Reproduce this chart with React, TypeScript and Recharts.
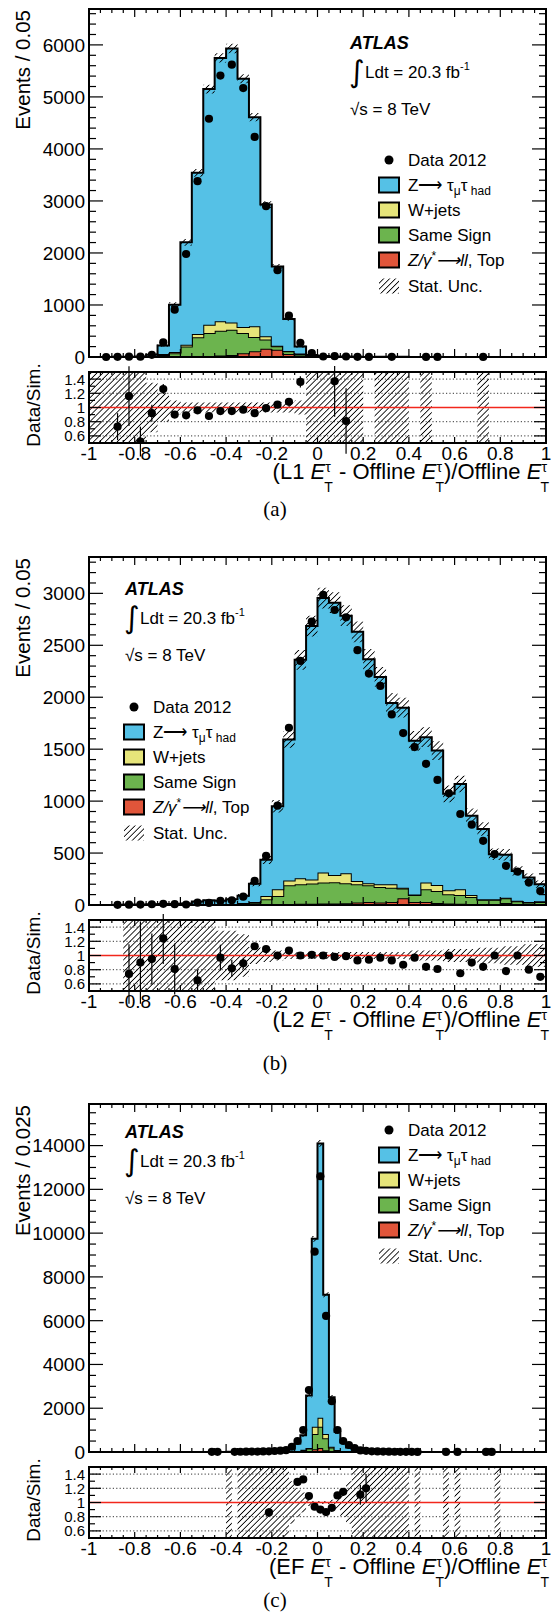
import React from "react";
import { ComposedChart, Area, Scatter, ErrorBar, XAxis, YAxis, ReferenceLine } from "recharts";

const SANS = "'Liberation Sans', Arial, Helvetica, sans-serif";
const SERIF = "'Liberation Serif', 'DejaVu Serif', serif";

const ZTT = "#55c1e6";
const WJETS = "#e6e57a";
const SAMESIGN = "#6cb44e";
const ZLL = "#e0553a";
const RATIO_RED = "#f2271c";

// ---------- axes ----------
const xMajor = [-1, -0.8, -0.6, -0.4, -0.2, 0, 0.2, 0.4, 0.6, 0.8, 1];
const xLabels = ["-1", "-0.8", "-0.6", "-0.4", "-0.2", "0", "0.2", "0.4", "0.6", "0.8", "1"];
const ratioMajor = [0.6, 0.8, 1, 1.2, 1.4];
const ratioLabels = ["0.6", "0.8", "1", "1.2", "1.4"];
const ratioGrid = [0.6, 0.8, 1.2, 1.4];

const yMajorA = [0, 1000, 2000, 3000, 4000, 5000, 6000];
const yLabelsA = ["0", "1000", "2000", "3000", "4000", "5000", "6000"];
const yMajorB = [0, 500, 1000, 1500, 2000, 2500, 3000];
const yLabelsB = ["0", "500", "1000", "1500", "2000", "2500", "3000"];
const yMajorC = [0, 2000, 4000, 6000, 8000, 10000, 12000, 14000];
const yLabelsC = ["0", "2000", "4000", "6000", "8000", "10000", "12000", "14000"];

// ---------- (a) L1, bins of 0.05 ----------
const zllA = [
  0, 0, 0, 0, 0, 0, 5, 8, 10, 15,
  20, 30, 40, 70, 110, 160, 140, 60, 30, 10,
  2, 1, 1, 0, 0, 0, 0, 0, 0, 0,
  0, 0, 0, 0, 0, 0, 0, 0, 0, 0,
];
const sameSignA = [
  0, 0, 0, 0, 0, 5, 35, 62, 190, 365,
  440, 475, 485, 390, 275, 175, 65, 50, 30, 10,
  3, 1, 1, 1, 0, 0, 0, 0, 0, 0,
  0, 0, 0, 0, 0, 0, 0, 0, 0, 0,
];
const wjetsA = [
  0, 0, 0, 0, 0, 5, 20, 25, 35, 60,
  160, 180, 140, 115, 205, 65, 10, 5, 5, 2,
  0, 0, 0, 0, 0, 0, 0, 0, 0, 0,
  0, 0, 0, 0, 0, 0, 0, 0, 0, 0,
];
const zttA = [
  1, 2, 4, 6, 12, 35, 160, 911, 1970, 3100,
  4530, 5065, 5265, 4775, 4020, 2530, 1525, 615, 135, 18,
  15, 10, 10, 5, 0, 4, 3, 3, 0, 2,
  0, 0, 0, 0, 1, 0, 0, 0, 0, 0,
];
const dataA = [
  null, 0, 3, 7, 6, 41, 280, 910, 1980, 3380,
  4580, 5410, 5620, 5170, 4230, 2900, 1670, 795, 272, 75,
  10, 16, 10, 4, 2, null, 3, null, null, 2,
  1, null, null, null, 1, null, null, null, null, null,
];
const statA = [
  1, 1, 3, 4, 5, 12, 25, 45, 65, 75,
  85, 90, 90, 85, 80, 65, 50, 35, 20, 12,
  10, 8, 8, 5, 0, 4, 3, 3, 0, 2,
  0, 0, 0, 0, 1, 0, 0, 0, 0, 0,
];
const ratioBandA = [
  0.6, 0.6, 0.6, 0.6, 0.6, 0.35, 0.2, 0.1, 0.07, 0.07,
  0.07, 0.07, 0.07, 0.07, 0.07, 0.07, 0.07, 0.07, 0.1, 0.6,
  0.6, 0.6, 0.6, 0.6, null, 0.6, 0.6, 0.6, null, 0.6,
  null, null, null, null, 0.6, null, null, null, null, null,
];
const ratioBinsA = [2, 3, 4, 5, 6, 7, 8, 9, 10, 11, 12, 13, 14, 15, 16, 17, 18, 21, 22];
const ratioA = [0.73, 1.16, 0.52, 0.92, 1.26, 0.9, 0.89, 0.96, 0.88, 0.95, 0.95, 0.97, 0.92, 0.99, 1.04, 1.08, 1.36, 1.37, 0.81];
const ratioErrA = [0.19, 0.42, 0.21, 0.12, 0.07, 0.03, 0.025, 0.02, 0.02, 0.02, 0.02, 0.02, 0.02, 0.02, 0.03, 0.04, 0.08, 0.5, 0.46];

// ---------- (b) L2, bins of 0.05 ----------
const zllB = [
  0, 0, 0, 0, 0, 0, 0, 0, 0, 0,
  0, 0, 0, 2, 3, 5, 8, 10, 12, 12,
  14, 15, 18, 25, 30, 25, 30, 64, 30, 30,
  20, 15, 12, 8, 5, 5, 20, 3, 3, 3,
];
const sameSignB = [
  0, 0, 0, 0, 0, 0, 0, 0, 0, 0,
  0, 0, 5, 13, 19, 50, 79, 180, 188, 194,
  202, 203, 191, 175, 160, 149, 137, 96, 67, 121,
  115, 88, 85, 69, 45, 45, 45, 32, 22, 27,
];
const wjetsB = [
  0, 0, 0, 0, 0, 0, 0, 0, 0, 0,
  0, 0, 3, 5, 8, 32, 64, 45, 58, 39,
  96, 72, 97, 30, 20, 26, 33, 5, 3, 65,
  58, 39, 54, 20, 5, 5, 5, 5, 3, 5,
];
const zttB = [
  0, 0, 0, 4, 5, 8, 9, 10, 14, 34,
  45, 40, 47, 70, 175, 348, 799, 1359, 2102, 2440,
  2643, 2620, 2479, 2400, 2155, 1995, 1745, 1735, 1480, 1400,
  1294, 928, 1014, 763, 676, 434, 413, 288, 236, 165,
];
const dataB = [
  null, null, 2, 3, 4, 7, 11, 8, 5, 22,
  20, 39, 45, 80, 232, 473, 956, 1706, 2350, 2727,
  2985, 2840, 2769, 2453, 2228, 2109, 1835, 1655, 1520, 1359,
  1204, 1075, 876, 773, 618, 489, 377, 322, 216, 135,
];
const statB = [
  0, 0, 0, 3, 3, 4, 4, 5, 5, 8,
  9, 9, 12, 15, 25, 40, 60, 80, 95, 100,
  100, 100, 100, 100, 100, 95, 95, 95, 95, 95,
  90, 80, 80, 70, 65, 55, 55, 45, 40, 35,
];
const ratioBandB = [
  null, null, null, 0.6, 0.6, 0.6, 0.6, 0.6, 0.6, 0.6,
  0.6, 0.35, 0.35, 0.3, 0.12, 0.09, 0.07, 0.05, 0.05, 0.05,
  0.05, 0.05, 0.05, 0.05, 0.05, 0.05, 0.05, 0.05, 0.07, 0.07,
  0.07, 0.09, 0.09, 0.09, 0.11, 0.11, 0.13, 0.13, 0.16, 0.16,
];
const ratioBinsB = [3, 4, 5, 6, 7, 9, 11, 12, 13, 14, 15, 16, 17, 18, 19, 20, 21, 22, 23, 24, 25, 26, 27, 28, 29, 30, 31, 32, 33, 34, 35, 36, 37, 38, 39];
const ratioB = [0.74, 0.9, 0.95, 1.24, 0.81, 0.65, 0.97, 0.82, 0.89, 1.13, 1.09, 1.0, 1.07, 1.0, 1.01, 1.0, 0.98, 0.99, 0.93, 0.94, 0.97, 0.93, 0.87, 0.97, 0.84, 0.81, 1.0, 0.75, 0.9, 0.84, 1.0, 0.78, 1.0, 0.8, 0.7];
const ratioErrB = [0.42, 0.58, 0.36, 0.36, 0.36, 0.15, 0.18, 0.12, 0.08, 0.04, 0.03, 0.02, 0.02, 0.02, 0.02, 0.02, 0.02, 0.02, 0.02, 0.02, 0.02, 0.02, 0.02, 0.02, 0.02, 0.02, 0.03, 0.03, 0.03, 0.03, 0.03, 0.04, 0.04, 0.04, 0.04];

// ---------- (c) EF, bins of 0.025 ----------
const zllC = [
  0, 0, 0, 0, 0, 0, 0, 0, 0, 0,
  0, 0, 0, 0, 0, 0, 0, 0, 0, 0,
  0, 0, 0, 0, 0, 0, 0, 0, 0, 0,
  0, 0, 0, 0, 0, 2, 5, 10, 15, 120,
  180, 80, 20, 10, 5, 3, 2, 0, 0, 0,
  0, 0, 0, 0, 0, 0, 0, 0, 0, 0,
  0, 0, 0, 0, 0, 0, 0, 0, 0, 0,
  0, 0, 0, 0, 0, 0, 0, 0, 0, 0,
];
const sameSignC = [
  0, 0, 0, 0, 0, 0, 0, 0, 0, 0,
  0, 0, 0, 0, 0, 0, 0, 0, 0, 0,
  0, 0, 0, 0, 0, 0, 0, 0, 0, 0,
  0, 0, 0, 0, 0, 6, 35, 80, 145, 703,
  978, 545, 180, 70, 35, 17, 8, 0, 0, 0,
  0, 0, 0, 0, 0, 0, 0, 0, 0, 0,
  0, 0, 0, 0, 0, 0, 0, 0, 0, 0,
  0, 0, 0, 0, 0, 0, 0, 0, 0, 0,
];
const wjetsC = [
  0, 0, 0, 0, 0, 0, 0, 0, 0, 0,
  0, 0, 0, 0, 0, 0, 0, 0, 0, 0,
  0, 0, 0, 0, 0, 0, 0, 0, 0, 0,
  0, 0, 0, 0, 0, 2, 5, 10, 20, 335,
  411, 198, 40, 10, 5, 2, 2, 0, 0, 0,
  0, 0, 0, 0, 0, 0, 0, 0, 0, 0,
  0, 0, 0, 0, 0, 0, 0, 0, 0, 0,
  0, 0, 0, 0, 0, 0, 0, 0, 0, 0,
];
const zttC = [
  0, 0, 0, 0, 0, 0, 0, 0, 0, 0,
  0, 0, 0, 0, 0, 0, 0, 0, 0, 0,
  0, 0, 0, 0, 8, 0, 12, 15, 18, 22,
  28, 38, 50, 65, 90, 140, 345, 660, 2400, 8582,
  12531, 6357, 2260, 825, 392, 178, 98, 65, 45, 35,
  28, 22, 18, 15, 12, 10, 0, 6, 0, 0,
  0, 0, 4, 0, 4, 0, 0, 0, 0, 0,
  0, 3, 0, 0, 0, 0, 0, 0, 0, 0,
];
const dataC = [
  null, null, null, null, null, null, null, null, null, null,
  null, null, null, null, null, null, null, null, null, null,
  null, 8, 8, null, null, 10, 12, 14, 18, 20,
  25, 33, 45, 60, 85, 240, 503, 1005, 2830, 9155,
  12600, 6215, 2320, 1005, 503, 320, 180, 72, 54, 30,
  25, 20, 15, 12, 10, 8, 6, 5, null, null,
  null, null, 3, null, 3, null, null, null, null, 2,
  2, null, null, null, null, null, null, null, null, null,
];
const statC = [
  0, 0, 0, 0, 0, 0, 0, 0, 0, 0,
  0, 0, 0, 0, 0, 0, 0, 0, 0, 0,
  0, 0, 0, 0, 6, 0, 8, 9, 10, 12,
  14, 18, 22, 28, 35, 45, 60, 80, 110, 130,
  150, 120, 100, 80, 70, 55, 45, 35, 30, 25,
  22, 18, 15, 12, 10, 8, 0, 6, 0, 0,
  0, 0, 4, 0, 4, 0, 0, 0, 0, 0,
  0, 3, 0, 0, 0, 0, 0, 0, 0, 0,
];
const ratioBandC = [
  null, null, null, null, null, null, null, null, null, null,
  null, null, null, null, null, null, null, null, null, null,
  null, null, null, null, 0.6, null, 0.6, 0.6, 0.6, 0.6,
  0.6, 0.6, 0.6, 0.6, 0.6, 0.3, 0.2, 0.14, 0.05, 0.02,
  0.02, 0.02, 0.04, 0.1, 0.2, 0.3, 0.6, 0.6, 0.6, 0.6,
  0.6, 0.6, 0.6, 0.6, 0.6, 0.6, null, 0.6, null, null,
  null, null, 0.6, null, 0.6, null, null, null, null, null,
  null, 0.6, null, null, null, null, null, null, null, null,
];
const ratioBinsC = [31, 36, 37, 38, 39, 40, 41, 42, 43, 44, 47, 48];
const ratioC = [0.86, 1.29, 1.325, 1.09, 0.94, 0.9, 0.865, 0.925, 1.1, 1.15, 1.11, 1.2];
const ratioErrC = [0.06, 0.03, 0.025, 0.02, 0.01, 0.01, 0.01, 0.015, 0.03, 0.04, 0.14, 0.2];

// ---------- helpers ----------
function steps(a: number, b: number, s: number) {
  const n = Math.round((b - a) / s);
  const out: number[] = [];
  for (let i = 0; i <= n; i++) out.push(Math.round((a + i * s) * 1e6) / 1e6);
  return out;
}
const xTicks = steps(-1, 1, 0.05);
const ratioTicks = steps(0.5, 1.5, 0.1);

function findTick(list: number[], v: number) {
  return list.findIndex((m) => Math.abs(m - v) < 1e-6);
}

function histRows(w: number, zll: number[], ss: number[], wj: number[], ztt: number[], stat: number[]) {
  const rows: any[] = [];
  ztt.forEach((_, i) => {
    const top = zll[i] + ss[i] + wj[i] + ztt[i];
    const band = top > 0 ? [Math.max(0, top - stat[i]), top + stat[i]] : null;
    [-1 + i * w, -1 + (i + 1) * w].forEach((x) =>
      rows.push({ x, zll: zll[i], ss: ss[i], wj: wj[i], ztt: ztt[i], band })
    );
  });
  return rows;
}

function bandRows(w: number, half: (number | null)[]) {
  const rows: any[] = [];
  half.forEach((h, i) => {
    const band = h == null ? null : [1 - h, 1 + h];
    [-1 + i * w, -1 + (i + 1) * w].forEach((x) => rows.push({ x, band }));
  });
  return rows;
}

const tickLine = (x1: number, y1: number, x2: number, y2: number) => (
  <line x1={x1} y1={y1} x2={x2} y2={y2} stroke="#000" strokeWidth={1.2} />
);

const makeXTick = (top: number, bottom: number, maj: number, min: number, labels: boolean) => (p: any) => {
  const k = findTick(xMajor, p.payload.value);
  const len = k >= 0 ? maj : min;
  return (
    <g>
      {tickLine(p.x, bottom, p.x, bottom - len)}
      {tickLine(p.x, top, p.x, top + len)}
      {labels && k >= 0 ? (
        <text x={p.x} y={bottom + 17} textAnchor="middle" fontSize={19} fontFamily={SANS} fill="#000">
          {xLabels[k]}
        </text>
      ) : null}
    </g>
  );
};

const makeYTick = (majors: number[], labels: string[], left: number, right: number, maj: number, min: number, fs: number) => (p: any) => {
  const k = findTick(majors, p.payload.value);
  const len = k >= 0 ? maj : min;
  return (
    <g>
      {tickLine(left, p.y, left + len, p.y)}
      {tickLine(right, p.y, right - len, p.y)}
      {k >= 0 ? (
        <text x={left - 4} y={p.y} dy="0.36em" textAnchor="end" fontSize={fs} fontFamily={SANS} fill="#000">
          {labels[k]}
        </text>
      ) : null}
    </g>
  );
};

const dataDot = (p: any) => <circle cx={p.cx} cy={p.cy} r={4.1} fill="#000" />;

// ---------- overlay pieces ----------
function AxisTitle({ trig }: { trig: string }) {
  return (
    <text x={549} y={479} textAnchor="end" fontSize={22} fontFamily={SANS} fill="#000">
      ({trig} <tspan fontStyle="italic">E</tspan>
      <tspan fontSize={14} dy={-7}>τ</tspan>
      <tspan fontSize={14} dx={-6.5} dy={20}>T</tspan>
      <tspan dy={-13}> - Offline </tspan>
      <tspan fontStyle="italic">E</tspan>
      <tspan fontSize={14} dy={-7}>τ</tspan>
      <tspan fontSize={14} dx={-6.5} dy={20}>T</tspan>
      <tspan dy={-13}>)/Offline </tspan>
      <tspan fontStyle="italic">E</tspan>
      <tspan fontSize={14} dy={-7}>τ</tspan>
      <tspan fontSize={14} dx={-6.5} dy={20}>T</tspan>
    </text>
  );
}

function AtlasLabel({ x, y }: { x: number; y: number }) {
  return (
    <g fill="#000" fontFamily={SANS}>
      <text x={x} y={y} fontSize={18} fontWeight="bold" fontStyle="italic">ATLAS</text>
      <text x={x - 1} y={y + 33} fontSize={30} fontFamily="'DejaVu Sans', sans-serif">∫</text>
      <text x={x + 15} y={y + 29} fontSize={17}>
        Ldt = 20.3 fb<tspan fontSize={11} dy={-8}>-1</tspan>
      </text>
      <text x={x} y={y + 66} fontSize={17}>√s = 8 TeV</text>
    </g>
  );
}

function Legend({ x, y }: { x: number; y: number }) {
  const tx = x + 29;
  const fills = [ZTT, WJETS, SAMESIGN, ZLL];
  return (
    <g fill="#000" fontFamily={SANS} fontSize={17}>
      <circle cx={x + 10} cy={y} r={4.5} />
      <text x={tx} y={y + 6}>Data 2012</text>
      {fills.map((c, k) => (
        <rect key={c} x={x} y={y + 25 * (k + 1) - 7.5} width={20} height={15} fill={c} stroke="#000" strokeWidth={2} />
      ))}
      <text x={tx} y={y + 31}>
        Z⟶ τ<tspan fontSize={12} dy={4}>μ</tspan>
        <tspan dy={-4}>τ</tspan>
        <tspan fontSize={12} dy={4}> had</tspan>
      </text>
      <text x={tx} y={y + 56}>W+jets</text>
      <text x={tx} y={y + 81}>Same Sign</text>
      <text x={tx} y={y + 106}>
        <tspan fontStyle="italic">Z/γ</tspan>
        <tspan fontSize={12} dy={-6}>*</tspan>
        <tspan fontStyle="italic" dy={6}>⟶ll</tspan>, Top
      </text>
      <rect x={x} y={y + 126 - 7.5} width={20} height={15} fill="url(#statHatch)" />
      <text x={tx} y={y + 132}>Stat. Unc.</text>
    </g>
  );
}

// ---------- panel ----------
function Panel({ cfg }: { cfg: any }) {
  const rows = histRows(cfg.w, cfg.zll, cfg.ss, cfg.wj, cfg.ztt, cfg.stat);
  const pts = cfg.data
    .map((v: number | null, i: number) => (v == null ? null : { x: -1 + (i + 0.5) * cfg.w, y: v }))
    .filter(Boolean);
  const rRows = bandRows(cfg.w, cfg.band);
  const rPts = cfg.rBins.map((b: number, k: number) => ({ x: -1 + (b + 0.5) * cfg.w, y: cfg.ratio[k], e: cfg.rErr[k] }));
  const yTicks = steps(0, cfg.yTickMax, cfg.yMinor);

  return (
    <div style={{ position: "absolute", left: 0, top: cfg.top, width: 551, height: cfg.h }}>
      <div style={{ position: "absolute", left: 0, top: 0 }}>
        <ComposedChart width={551} height={372} data={rows} margin={{ top: 9, right: 5, bottom: 14, left: 88 }}>
          <Area dataKey="zll" stackId="mc" type="linear" fill={ZLL} fillOpacity={1} stroke="#000" strokeWidth={2} isAnimationActive={false} dot={false} activeDot={false} />
          <Area dataKey="ss" stackId="mc" type="linear" fill={SAMESIGN} fillOpacity={1} stroke="#000" strokeWidth={2} isAnimationActive={false} dot={false} activeDot={false} />
          <Area dataKey="wj" stackId="mc" type="linear" fill={WJETS} fillOpacity={1} stroke="#000" strokeWidth={2} isAnimationActive={false} dot={false} activeDot={false} />
          <Area dataKey="ztt" stackId="mc" type="linear" fill={ZTT} fillOpacity={1} stroke="#000" strokeWidth={2} isAnimationActive={false} dot={false} activeDot={false} />
          <Area dataKey="band" type="linear" fill="url(#statHatch)" fillOpacity={1} stroke="none" isAnimationActive={false} dot={false} activeDot={false} />
          <Scatter data={pts} dataKey="y" shape={dataDot} isAnimationActive={false} />
          <XAxis dataKey="x" type="number" domain={[-1, 1]} ticks={xTicks} interval={0} height={1} axisLine={false} tickLine={false} tick={makeXTick(9, 357, 8, 4, false)} />
          <YAxis type="number" domain={[0, cfg.yMax]} ticks={yTicks} interval={0} width={1} axisLine={false} tickLine={false} tick={makeYTick(cfg.yMajor, cfg.yLabels, 89, 546, 14, 7, 19)} />
        </ComposedChart>
      </div>
      <div style={{ position: "absolute", left: 0, top: 366 }}>
        <ComposedChart width={551} height={110} data={rRows} margin={{ top: 6, right: 5, bottom: 32, left: 88 }}>
          <Area dataKey="band" type="linear" fill="url(#statHatch)" fillOpacity={1} stroke="none" isAnimationActive={false} dot={false} activeDot={false} />
          {ratioGrid.map((g) => (
            <ReferenceLine key={g} y={g} stroke="#000" strokeWidth={0.8} strokeDasharray="1.2 2.2" />
          ))}
          <ReferenceLine y={1} stroke={RATIO_RED} strokeWidth={1.6} />
          <Scatter data={rPts} dataKey="y" shape={dataDot} isAnimationActive={false}>
            <ErrorBar dataKey="e" direction="y" width={0} stroke="#000" strokeWidth={1.2} />
          </Scatter>
          <XAxis dataKey="x" type="number" domain={[-1, 1]} allowDataOverflow ticks={xTicks} interval={0} height={1} axisLine={false} tickLine={false} tick={makeXTick(6, 77, 6, 3, true)} />
          <YAxis type="number" domain={[0.5, 1.5]} allowDataOverflow ticks={ratioTicks} interval={0} width={1} axisLine={false} tickLine={false} tick={makeYTick(ratioMajor, ratioLabels, 89, 546, 12, 6, 15)} />
        </ComposedChart>
      </div>
      <svg width={551} height={cfg.h} style={{ position: "absolute", left: 0, top: 0, pointerEvents: "none" }}>
        <rect x={89} y={9} width={457} height={348} fill="none" stroke="#000" strokeWidth={2} />
        <rect x={89} y={372} width={457} height={71} fill="none" stroke="#000" strokeWidth={2} />
        <text transform="translate(30,10) rotate(-90)" textAnchor="end" fontSize={20.5} fontFamily={SANS} fill="#000">
          {cfg.yTitle}
        </text>
        <text transform="translate(40,405) rotate(-90)" textAnchor="middle" fontSize={19} fontFamily={SANS} fill="#000">
          Data/Sim.
        </text>
        <AxisTitle trig={cfg.trig} />
        <text x={275} y={cfg.labelY} textAnchor="middle" fontSize={21} fontFamily={SERIF} fill="#000">
          {cfg.label}
        </text>
        <AtlasLabel x={cfg.atlas[0]} y={cfg.atlas[1]} />
        <Legend x={cfg.legend[0]} y={cfg.legend[1]} />
      </svg>
    </div>
  );
}

const panels = [
  {
    top: 0, h: 548, w: 0.05, zll: zllA, ss: sameSignA, wj: wjetsA, ztt: zttA, stat: statA, data: dataA,
    band: ratioBandA, rBins: ratioBinsA, ratio: ratioA, rErr: ratioErrA,
    yMax: 6690, yTickMax: 6600, yMinor: 200, yMajor: yMajorA, yLabels: yLabelsA,
    yTitle: "Events / 0.05", trig: "L1", label: "(a)", labelY: 516, atlas: [350, 49], legend: [379, 160],
  },
  {
    top: 548, h: 548, w: 0.05, zll: zllB, ss: sameSignB, wj: wjetsB, ztt: zttB, stat: statB, data: dataB,
    band: ratioBandB, rBins: ratioBinsB, ratio: ratioB, rErr: ratioErrB,
    yMax: 3350, yTickMax: 3300, yMinor: 100, yMajor: yMajorB, yLabels: yLabelsB,
    yTitle: "Events / 0.05", trig: "L2", label: "(b)", labelY: 522, atlas: [125, 47], legend: [124, 159],
  },
  {
    top: 1095, h: 520, w: 0.025, zll: zllC, ss: sameSignC, wj: wjetsC, ztt: zttC, stat: statC, data: dataC,
    band: ratioBandC, rBins: ratioBinsC, ratio: ratioC, rErr: ratioErrC,
    yMax: 15900, yTickMax: 15500, yMinor: 500, yMajor: yMajorC, yLabels: yLabelsC,
    yTitle: "Events / 0.025", trig: "EF", label: "(c)", labelY: 512, atlas: [125, 43], legend: [379, 35],
  },
];

export default function App() {
  return (
    <div style={{ position: "absolute", left: 0, top: 0, width: 551, height: 1615, background: "#fff", overflow: "hidden" }}>
      <svg width={0} height={0} style={{ position: "absolute" }}>
        <defs>
          <pattern id="statHatch" patternUnits="userSpaceOnUse" width={4.2} height={4.2} patternTransform="rotate(45)">
            <line x1={2.1} y1={0} x2={2.1} y2={4.2} stroke="#000" strokeWidth={0.85} />
          </pattern>
        </defs>
      </svg>
      {panels.map((cfg) => (
        <Panel key={cfg.label} cfg={cfg} />
      ))}
    </div>
  );
}
